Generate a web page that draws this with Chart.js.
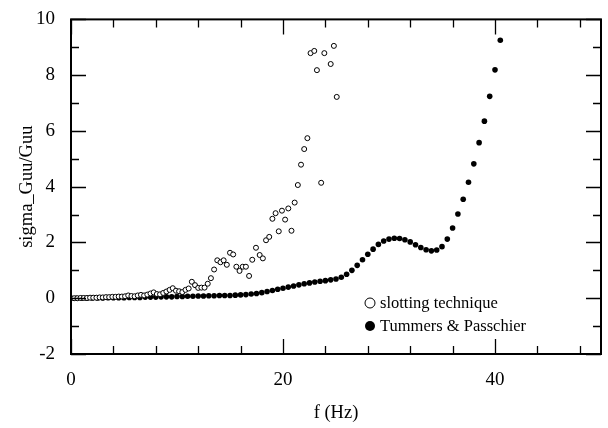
<!DOCTYPE html>
<html>
<head>
<meta charset="utf-8">
<script src="https://cdn.jsdelivr.net/npm/chart.js@4/dist/chart.umd.min.js"></script>
<style>
  html, body { margin: 0; padding: 0; background: #fff; }
  #wrap { width: 608px; height: 428px; position: relative; }
</style>
</head>
<body>
<div id="wrap"><canvas id="c" width="608" height="428"></canvas></div>
<script>
// ---- Data ----
const slottingF = [0,0.3,0.6,0.9,1.2,1.5,1.8,2.1,2.4,2.7,3.0,3.3,3.6,3.9,4.2,4.5,4.8,5.1,5.4,5.7,6.0,6.3,6.6,6.9,7.2,7.5,7.8,8.1,8.4,8.7,9.0,9.3,9.6,9.9,10.2,10.5,10.8,11.1,11.4,11.7,12.0,12.3,12.6,12.9,13.2,13.5,13.8,14.1,14.4,14.7,15.0,15.3,15.6,15.9,16.2,16.5,16.8,17.1,17.45,17.8,18.1,18.4,18.7,19.0,19.3,19.6,19.9,20.2,20.5,20.8,21.1,21.4,21.7,22.0,22.3,22.6,22.95,23.2,23.6,23.9,24.5,24.8,25.07];
const slottingV = [0.0,0.0,0.0,0.01,0.01,0.01,0.02,0.02,0.02,0.03,0.03,0.04,0.04,0.05,0.05,0.06,0.06,0.07,0.1,0.08,0.07,0.1,0.12,0.1,0.13,0.17,0.21,0.15,0.14,0.19,0.24,0.3,0.36,0.27,0.25,0.22,0.3,0.35,0.59,0.47,0.37,0.38,0.38,0.52,0.72,1.03,1.36,1.29,1.36,1.2,1.63,1.57,1.13,0.98,1.13,1.13,0.8,1.38,1.81,1.55,1.43,2.08,2.2,2.85,3.05,2.4,3.14,2.82,3.22,2.42,3.43,4.06,4.79,5.35,5.74,8.79,8.87,8.18,4.14,8.79,8.4,9.05,7.22];

const tummersF = [0,0.5,1,1.5,2,2.5,3,3.5,4,4.5,5,5.5,6,6.5,7,7.5,8,8.5,9,9.5,10,10.5,11,11.5,12,12.5,13,13.5,14,14.5,15,15.5,16,16.5,17,17.5,18,18.5,19,19.5,20,20.5,21,21.5,22,22.5,23,23.5,24,24.5,25,25.5,26,26.5,27,27.5,28,28.5,29,29.5,30,30.5,31,31.5,32,32.5,33,33.5,34,34.5,35,35.5,36,36.5,37,37.5,38,38.5,39,39.5,40,40.5];
const tummersV = [0.0,0.0,0.0,0.0,0.01,0.01,0.01,0.02,0.02,0.02,0.02,0.03,0.03,0.03,0.04,0.04,0.04,0.05,0.05,0.05,0.06,0.06,0.07,0.07,0.08,0.08,0.09,0.09,0.1,0.1,0.1,0.11,0.12,0.13,0.15,0.17,0.2,0.24,0.28,0.32,0.36,0.4,0.44,0.48,0.52,0.55,0.58,0.61,0.63,0.66,0.69,0.75,0.86,1.0,1.18,1.38,1.58,1.76,1.93,2.05,2.12,2.15,2.14,2.1,2.02,1.92,1.82,1.74,1.7,1.73,1.85,2.12,2.52,3.02,3.55,4.16,4.82,5.58,6.35,7.24,8.19,9.25];

const seriesLabels = ['slotting technique', 'Tummers & Passchier'];
const xTickLabels = [0, 20, 40];
const yTickLabels = [-2, 0, 2, 4, 6, 8, 10];
const xMinorTicks = [4, 8, 12, 16, 24, 28, 32, 36, 44, 48];
const yMinorTicks = [-1, 1, 3, 5, 7, 9];
const xTitle = 'f (Hz)';
const yTitle = 'sigma_Guu/Guu';

const FONT = '"Liberation Serif", "Times New Roman", serif';

// ---- Custom frame, inward ticks and legend ----
const framePlugin = {
  id: 'frame',
  afterDatasetsDraw(chart) {
    const ctx = chart.ctx;
    const a = chart.chartArea;
    const xs = chart.scales.x, ys = chart.scales.y;
    ctx.save();
    ctx.strokeStyle = '#000';
    ctx.lineWidth = 2;
    ctx.strokeRect(a.left, a.top, a.right - a.left, a.bottom - a.top);
    ctx.lineWidth = 1.3;
    const MAJ = 15, MIN = 8;
    ctx.beginPath();
    const xt = (v, len) => {
      const p = Math.round(xs.getPixelForValue(v)) + 0.5;
      ctx.moveTo(p, a.bottom); ctx.lineTo(p, a.bottom - len);
      ctx.moveTo(p, a.top); ctx.lineTo(p, a.top + len);
    };
    const yt = (v, len) => {
      const p = Math.round(ys.getPixelForValue(v)) + 0.5;
      ctx.moveTo(a.left, p); ctx.lineTo(a.left + len, p);
      ctx.moveTo(a.right, p); ctx.lineTo(a.right - len, p);
    };
    xTickLabels.forEach(v => xt(v, MAJ));
    xMinorTicks.forEach(v => xt(v, MIN));
    yTickLabels.forEach(v => yt(v, MAJ));
    yMinorTicks.forEach(v => yt(v, MIN));
    ctx.stroke();

    // legend
    ctx.font = '16.5px ' + FONT;
    ctx.fillStyle = '#000';
    ctx.textBaseline = 'middle';
    ctx.textAlign = 'left';
    const lx = 370, ly1 = 303, ly2 = 326;
    ctx.beginPath();
    ctx.arc(lx, ly1, 5, 0, Math.PI * 2);
    ctx.lineWidth = 1;
    ctx.fillStyle = '#fff';
    ctx.fill();
    ctx.stroke();
    ctx.fillStyle = '#000';
    ctx.fillText(seriesLabels[0], lx + 10, ly1 + 1);
    ctx.beginPath();
    ctx.arc(lx, ly2, 5, 0, Math.PI * 2);
    ctx.fill();
    ctx.fillText(seriesLabels[1], lx + 10, ly2 + 1);
    ctx.restore();
  }
};

const ctx = document.getElementById('c').getContext('2d');
new Chart(ctx, {
  type: 'scatter',
  data: {
    datasets: [
      {
        label: seriesLabels[0],
        data: slottingF.map((f, i) => ({ x: f, y: slottingV[i] })),
        pointStyle: 'circle',
        pointRadius: 2.5,
        pointBorderWidth: 1,
        pointBackgroundColor: '#fff',
        pointBorderColor: '#000',
        showLine: false
      },
      {
        label: seriesLabels[1],
        data: tummersF.map((f, i) => ({ x: f, y: tummersV[i] })),
        pointStyle: 'circle',
        pointRadius: 2.8,
        pointBorderWidth: 0,
        pointBackgroundColor: '#000',
        pointBorderColor: '#000',
        showLine: false
      }
    ]
  },
  options: {
    responsive: false,
    animation: false,
    devicePixelRatio: 1,
    layout: { padding: { top: 14, right: 7, left: 0, bottom: 0 } },
    plugins: { legend: { display: false }, tooltip: { enabled: false } },
    scales: {
      x: {
        type: 'linear', min: 0, max: 50,
        grid: { display: false },
        border: { display: false },
        afterBuildTicks: s => { s.ticks = xTickLabels.map(v => ({ value: v })); },
        afterFit: s => { s.height = 74; },
        ticks: { color: '#000', font: { family: FONT, size: 19 }, padding: 7, maxRotation: 0 },
        title: { display: true, text: xTitle, color: '#000', font: { family: FONT, size: 18.5 }, padding: { top: 14 } }
      },
      y: {
        type: 'linear', min: -2, max: 10,
        grid: { display: false },
        border: { display: false },
        afterBuildTicks: s => { s.ticks = yTickLabels.map(v => ({ value: v })); },
        afterFit: s => { s.width = 71; },
        ticks: { color: '#000', font: { family: FONT, size: 19 }, padding: 8 },
        title: { display: true, text: yTitle, color: '#000', font: { family: FONT, size: 18.5 }, padding: { top: 16, bottom: 6 } }
      }
    }
  },
  plugins: [framePlugin]
});
</script>
</body>
</html>
